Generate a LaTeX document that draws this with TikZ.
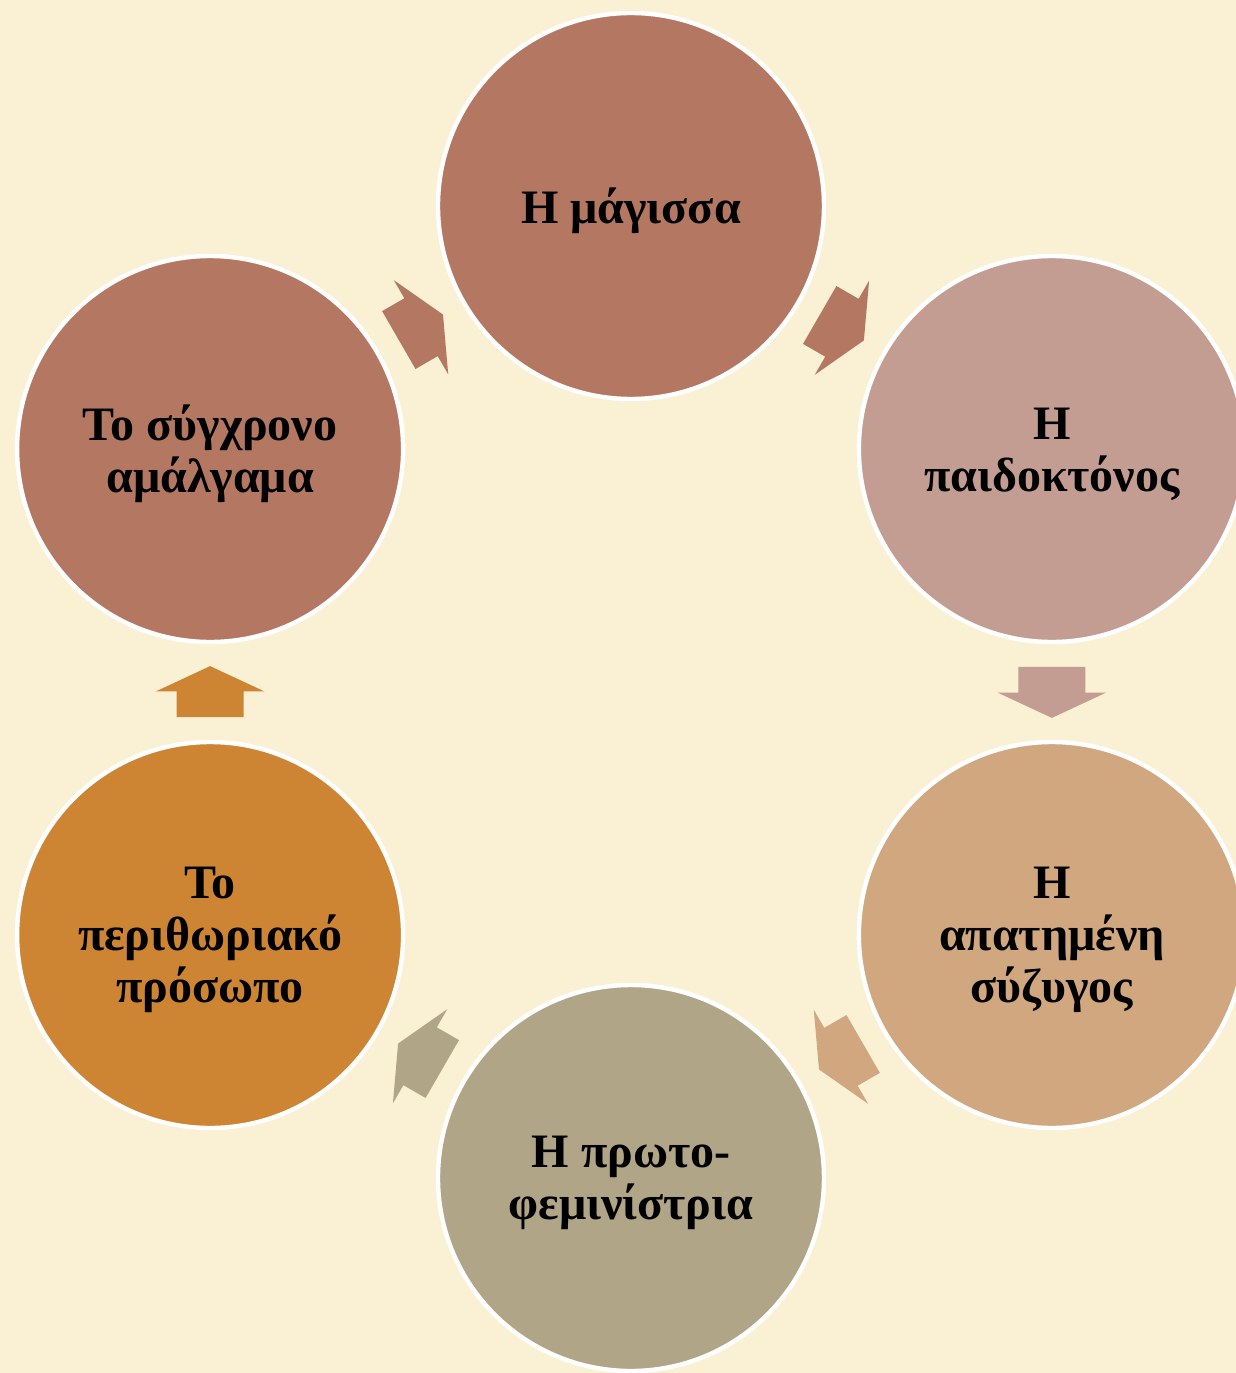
\documentclass[tikz,border=0pt]{standalone}
\usepackage{fontspec}
\setmainfont{Liberation Serif}
\usetikzlibrary{shapes.arrows,calc}
\definecolor{bgcream}{HTML}{FAF0D4}
\definecolor{rust}{HTML}{B47862}
\definecolor{rose}{HTML}{C39D92}
\definecolor{tan}{HTML}{D0A77E}
\definecolor{olive}{HTML}{B0A586}
\definecolor{ochre}{HTML}{CD8533}
\begin{document}
\begin{tikzpicture}[x=0.5pt,y=0.5pt,
    stage/.style={circle,draw=white,line width=2.2pt,minimum size=193pt,inner sep=0pt},
    stagetext/.style={align=center,yshift=-2.5pt,inner sep=0pt,
      font=\bfseries\fontsize{24}{26}\selectfont},
    blockarrow/.style={single arrow,anchor=tail,minimum height=25.5pt,inner xsep=0pt,
      inner ysep=16.5pt,single arrow head extend=10.5pt,single arrow tip angle=130}]
      \fill[bgcream] (-631,-681) rectangle (605,692);
      \useasboundingbox (-631,-681) rectangle (605,692);
      \draw
        (90:486) node[stage,fill=rust,label={[stagetext]center:Η μάγισσα}] (0){}
        (30:486) node[stage,fill=rose,label={[stagetext]center:Η\\παιδοκτόνος}] (1){}
        (-30:486) node[stage,fill=tan,label={[stagetext]center:Η\\απατημένη\\σύζυγος}] (2){}
        (-90:486) node[stage,fill=olive,label={[stagetext]center:Η πρωτο-\\φεμινίστρια}] (3){}
        (-150:486) node[stage,fill=ochre,label={[stagetext]center:Το\\περιθωριακό\\πρόσωπο}] (4){}
        (150:486) node[stage,fill=rust,label={[stagetext]center:Το σύγχρονο\\αμάλγαμα}] (5){};
      \begin{scope}
        \node[blockarrow,fill=rust,rotate=-30] (a0) at ($(0)!0.5!(1)!12.75pt!(0)$) {};
        \node[blockarrow,fill=rose,rotate=-90] (a1) at ($(1)!0.5!(2)!12.75pt!(1)$) {};
        \node[blockarrow,fill=tan,rotate=-150] (a2) at ($(2)!0.5!(3)!12.75pt!(2)$) {};
        \node[blockarrow,fill=olive,rotate=150] (a3) at ($(3)!0.5!(4)!12.75pt!(3)$) {};
        \node[blockarrow,fill=ochre,rotate=90] (a4) at ($(4)!0.5!(5)!12.75pt!(4)$) {};
        \node[blockarrow,fill=rust,rotate=30] (a5) at ($(5)!0.5!(0)!12.75pt!(5)$) {};
      \end{scope}
    \end{tikzpicture}
\end{document}
